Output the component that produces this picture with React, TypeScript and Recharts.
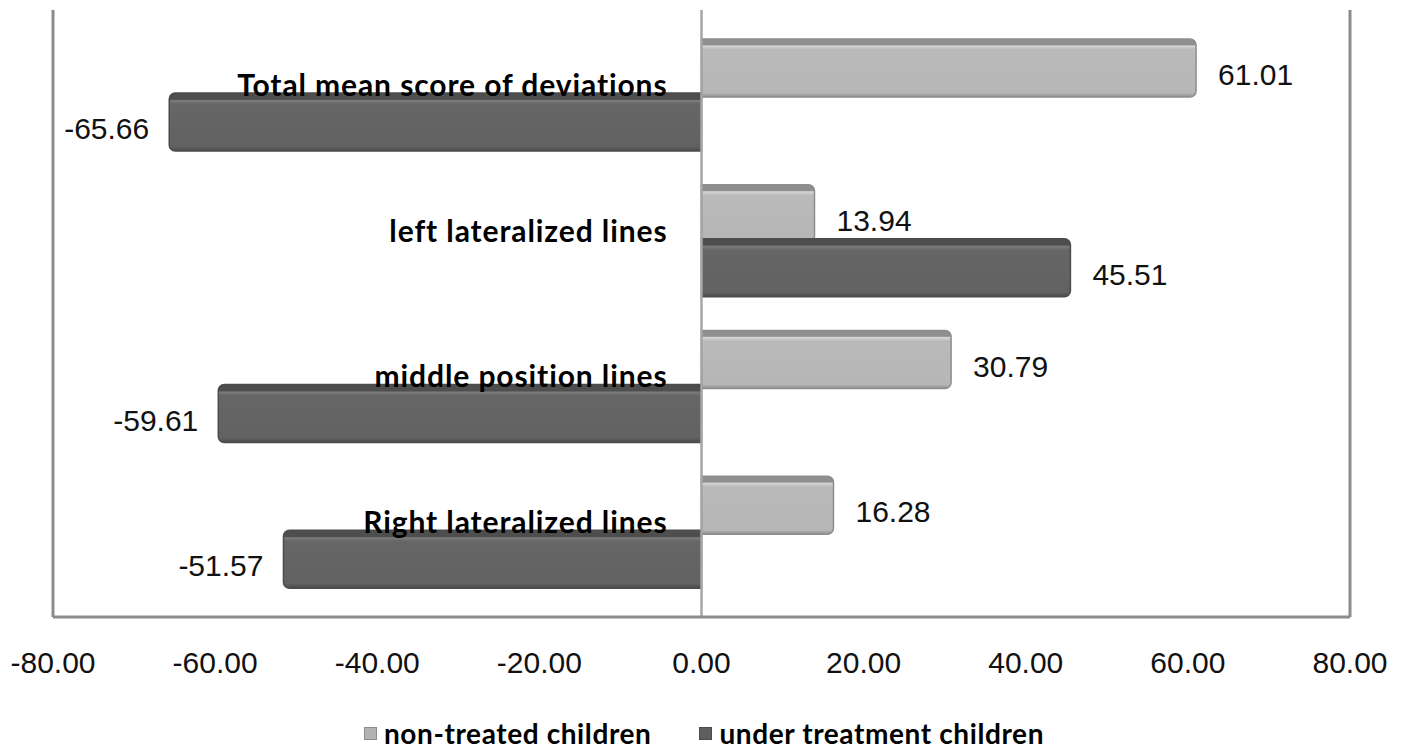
import {
  Bar,
  BarChart,
  LabelList,
  Legend,
  ReferenceLine,
  XAxis,
  YAxis,
} from "recharts";

const CATEGORIES = [
  "Total mean score of deviations",
  "left lateralized lines",
  "middle position lines",
  "Right lateralized lines",
];
const NON_TREATED = [61.01, 13.94, 30.79, 16.28];
const UNDER_TREATMENT = [-65.66, 45.51, -59.61, -51.57];
const X_TICKS = [-80, -60, -40, -20, 0, 20, 40, 60, 80];
const X_MIN = -80;
const X_MAX = 80;

const SERIES = [
  { key: "nonTreated", name: "non-treated children", fill: "url(#gLight)", stroke: "#8d8d8d", icon: "#b3b3b3" },
  { key: "underTreatment", name: "under treatment children", fill: "url(#gDark)", stroke: "#4c4c4c", icon: "#5e5e5e" },
];

const W = 1408;
const H = 751;
const MARGIN = { top: 10, right: 58, left: 52, bottom: 64 };
const Y_AXIS_W = 1;
const PLOT_LEFT = MARGIN.left + Y_AXIS_W;
const ZERO_X = PLOT_LEFT + ((W - PLOT_LEFT - MARGIN.right) * (0 - X_MIN)) / (X_MAX - X_MIN);

const data = CATEGORIES.map((name, i) => ({
  name,
  nonTreated: NON_TREATED[i],
  underTreatment: UNDER_TREATMENT[i],
}));

const NUM_FONT = "'Liberation Sans', Arial, sans-serif";
const LABEL_FONT = "Lato, 'Open Sans', sans-serif";

function ValueLabel(props: any) {
  const { x, y, width, height, value } = props;
  const left = Math.min(x, x + width);
  const right = Math.max(x, x + width);
  const pos = value >= 0;
  return (
    <text
      x={pos ? right + 22 : left - 20}
      y={y + height / 2 + 17}
      textAnchor={pos ? "start" : "end"}
      fontFamily={NUM_FONT}
      fontSize={30}
      fill="#111"
    >
      {Number(value).toFixed(2)}
    </text>
  );
}

function CategoryTick(props: any) {
  const { y, payload } = props;
  return (
    <text
      x={ZERO_X - 34}
      y={y + 1}
      textAnchor="end"
      fontFamily={LABEL_FONT}
      fontWeight={700}
      fontSize={30}
      letterSpacing={0.9}
      fill="#000"
    >
      {payload.value}
    </text>
  );
}

function LegendContent() {
  return (
    <div
      style={{
        display: "flex",
        justifyContent: "center",
        alignItems: "center",
        gap: 48,
        fontFamily: LABEL_FONT,
        fontWeight: 700,
        fontSize: 28,
        letterSpacing: 0.6,
        color: "#000",
        lineHeight: "28px",
      }}
    >
      {SERIES.map((s) => (
        <div key={s.key} style={{ display: "flex", alignItems: "center", gap: 7 }}>
          <span
            style={{
              display: "inline-block",
              width: 11,
              height: 11,
              background: s.icon,
              border: `1px solid ${s.stroke}`,
            }}
          />
          <span>{s.name}</span>
        </div>
      ))}
    </div>
  );
}

export default function App() {
  return (
    <div style={{ position: "fixed", left: 0, top: 0, background: "#fff" }}>
      <BarChart width={W} height={H} data={data} layout="vertical" margin={MARGIN} barSize={58} barGap={-4}>
        <defs>
          <linearGradient id="gLight" x1="0" y1="0" x2="0" y2="1">
            <stop offset="0%" stopColor="#8f8f8f" />
            <stop offset="10%" stopColor="#8f8f8f" />
            <stop offset="12%" stopColor="#d6d6d6" />
            <stop offset="18%" stopColor="#bababa" />
            <stop offset="93%" stopColor="#b6b6b6" />
            <stop offset="100%" stopColor="#8f8f8f" />
          </linearGradient>
          <linearGradient id="gDark" x1="0" y1="0" x2="0" y2="1">
            <stop offset="0%" stopColor="#4e4e4e" />
            <stop offset="11%" stopColor="#4e4e4e" />
            <stop offset="13%" stopColor="#7c7c7c" />
            <stop offset="19%" stopColor="#666666" />
            <stop offset="92%" stopColor="#626262" />
            <stop offset="100%" stopColor="#4a4a4a" />
          </linearGradient>
        </defs>
        <XAxis
          type="number"
          domain={[X_MIN, X_MAX]}
          ticks={X_TICKS}
          interval={0}
          tickFormatter={(v: number) => v.toFixed(2)}
          axisLine={{ stroke: "#8c8c8c", strokeWidth: 3 }}
          tickLine={false}
          tickSize={0}
          tickMargin={35}
          height={70}
          tick={{ fontFamily: NUM_FONT, fontSize: 30, fill: "#111" }}
          allowDataOverflow
        />
        <YAxis
          type="category"
          dataKey="name"
          width={Y_AXIS_W}
          axisLine={false}
          tickLine={false}
          tick={<CategoryTick />}
          padding={{ top: 12, bottom: 12 }}
          interval={0}
        />
        <ReferenceLine x={X_MIN} stroke="#8c8c8c" strokeWidth={3} />
        <ReferenceLine x={X_MAX} stroke="#8c8c8c" strokeWidth={3} />
        <ReferenceLine x={0} stroke="#a6a6a6" strokeWidth={2.5} />
        {SERIES.map((s) => (
          <Bar
            key={s.key}
            dataKey={s.key}
            name={s.name}
            fill={s.fill}
            stroke={s.stroke}
            strokeWidth={1.5}
            radius={[0, 6, 6, 0]}
            isAnimationActive={false}
          >
            <LabelList dataKey={s.key} content={<ValueLabel />} />
          </Bar>
        ))}
        <Legend
          layout="horizontal"
          verticalAlign="middle"
          align="center"
          content={<LegendContent />}
          wrapperStyle={{ top: 719, left: 0, width: W, height: 30 }}
        />
      </BarChart>
    </div>
  );
}
